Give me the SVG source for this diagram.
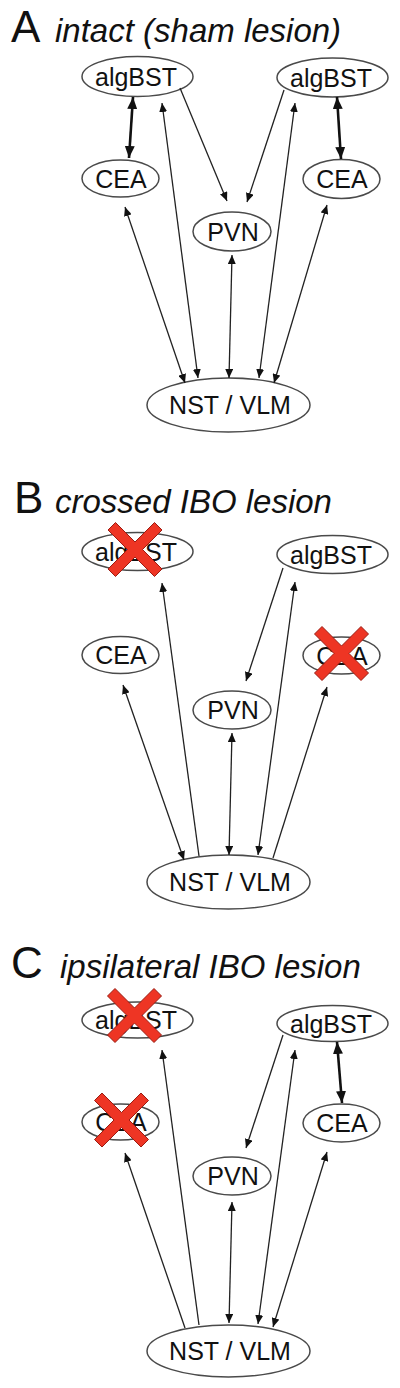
<svg xmlns="http://www.w3.org/2000/svg" width="400" height="1388" viewBox="0 0 400 1388">
<style>
.bg{fill:#ffffff}
.nd ellipse{fill:#ffffff;stroke:#4a4a4a;stroke-width:1.5}
.nd text{font-family:"Liberation Sans",Arial,sans-serif;font-size:25px;fill:#111111;text-anchor:middle}
.ttl{font-family:"Liberation Sans",Arial,sans-serif;fill:#111111}
.ttl .l{font-size:44px}
.ttl .s{font-size:33px;font-style:italic}
.e{stroke:#222222;stroke-width:1.3;fill:none}
.e.b{marker-start:url(#ah);marker-end:url(#ah)}
.e.f{marker-end:url(#ah)}
.t{stroke:#111111;stroke-width:2.6;fill:none;marker-start:url(#ahT);marker-end:url(#ahT)}
.x{fill:#ee3524;stroke:#9b1c12;stroke-width:1}
</style>
<defs>
<marker id="ah" viewBox="0 0 9 8" refX="9" refY="4" markerWidth="9" markerHeight="8" markerUnits="userSpaceOnUse" orient="auto-start-reverse">
<path d="M0,0 L9,4 L0,8 z" fill="#111111"/>
</marker>
<marker id="ahT" viewBox="0 0 12 10" refX="12" refY="5" markerWidth="12" markerHeight="10" markerUnits="userSpaceOnUse" orient="auto-start-reverse">
<path d="M0,0 L12,5 L0,10 z" fill="#111111"/>
</marker>
<polygon id="xmark" points="0,-7.5 19.5,-27 27,-19.5 7.5,0 27,19.5 19.5,27 0,7.5 -19.5,27 -27,19.5 -7.5,0 -27,-19.5 -19.5,-27"/>
</defs>
<rect class="bg" x="0" y="0" width="400" height="1388"/>

<g id="titles" class="ttl">
<text x="11" y="42"><tspan class="l">A</tspan></text>
<text x="55" y="42" class="s">intact (sham lesion)</text>
<text x="14" y="513"><tspan class="l">B</tspan></text>
<text x="55" y="513" class="s">crossed IBO lesion</text>
<text x="11" y="978"><tspan class="l">C</tspan></text>
<text x="60" y="978" class="s">ipsilateral IBO lesion</text>
</g>

<!-- Panel A nodes -->
<g id="A-algBST-L" class="nd"><ellipse cx="137.5" cy="76.5" rx="55.5" ry="20"/><text x="136" y="85.5">algBST</text></g>
<g id="A-algBST-R" class="nd"><ellipse cx="332.5" cy="77.5" rx="55.5" ry="19.5"/><text x="331" y="86.5">algBST</text></g>
<g id="A-CEA-L" class="nd"><ellipse cx="120.5" cy="178.5" rx="38.5" ry="18.5"/><text x="121" y="187.5">CEA</text></g>
<g id="A-CEA-R" class="nd"><ellipse cx="341.5" cy="179" rx="38.5" ry="19.5"/><text x="342" y="188">CEA</text></g>
<g id="A-PVN" class="nd"><ellipse cx="232" cy="231.5" rx="39" ry="19.5"/><text x="233" y="240.5">PVN</text></g>
<g id="A-NST" class="nd"><ellipse cx="228.5" cy="405" rx="81.5" ry="27"/><text x="230" y="414">NST / VLM</text></g>

<!-- Panel B nodes -->
<g id="B-algBST-L" class="nd"><ellipse cx="137.5" cy="551.5" rx="55.5" ry="19"/><text x="136" y="560.5">algBST</text></g>
<g id="B-algBST-R" class="nd"><ellipse cx="332.5" cy="554.5" rx="55.5" ry="19"/><text x="331" y="563.5">algBST</text></g>
<g id="B-CEA-L" class="nd"><ellipse cx="120.5" cy="655" rx="38.5" ry="18.5"/><text x="121" y="664">CEA</text></g>
<g id="B-CEA-R" class="nd"><ellipse cx="341.5" cy="655.5" rx="38.5" ry="18.5"/><text x="342" y="664.5">CEA</text></g>
<g id="B-PVN" class="nd"><ellipse cx="232" cy="710" rx="39" ry="19"/><text x="233" y="719">PVN</text></g>
<g id="B-NST" class="nd"><ellipse cx="228.5" cy="882" rx="81.5" ry="27"/><text x="230" y="891">NST / VLM</text></g>

<!-- Panel C nodes -->
<g id="C-algBST-L" class="nd"><ellipse cx="137.5" cy="1020" rx="55.5" ry="18"/><text x="136" y="1029">algBST</text></g>
<g id="C-algBST-R" class="nd"><ellipse cx="332.5" cy="1023.5" rx="55.5" ry="18"/><text x="331" y="1032.5">algBST</text></g>
<g id="C-CEA-L" class="nd"><ellipse cx="120.5" cy="1122" rx="38.5" ry="18"/><text x="121" y="1131">CEA</text></g>
<g id="C-CEA-R" class="nd"><ellipse cx="341.5" cy="1123" rx="38.5" ry="19"/><text x="342" y="1132">CEA</text></g>
<g id="C-PVN" class="nd"><ellipse cx="232" cy="1176" rx="39" ry="19"/><text x="233" y="1185">PVN</text></g>
<g id="C-NST" class="nd"><ellipse cx="228.5" cy="1351" rx="81.5" ry="26"/><text x="230" y="1360">NST / VLM</text></g>

<g id="connectors">
<!-- A -->
<line class="t" x1="133" y1="97" x2="129" y2="158"/>
<line class="e b" x1="125" y1="207" x2="185" y2="383"/>
<line class="e b" x1="162" y1="103" x2="198" y2="378"/>
<line class="e f" x1="180" y1="88" x2="227" y2="201"/>
<line class="e f" x1="284" y1="90" x2="247" y2="202"/>
<line class="e b" x1="232" y1="255" x2="229" y2="378"/>
<line class="e b" x1="295" y1="103" x2="259" y2="378"/>
<line class="e b" x1="327" y1="205" x2="274" y2="383"/>
<line class="t" x1="337" y1="97" x2="341" y2="159"/>
<!-- B -->
<line class="e f" x1="199" y1="856" x2="162" y2="583"/>
<line class="e b" x1="123" y1="685" x2="184" y2="860"/>
<line class="e b" x1="232" y1="733" x2="229" y2="855"/>
<line class="e f" x1="283" y1="568" x2="246" y2="681"/>
<line class="e b" x1="295" y1="582" x2="258" y2="855"/>
<line class="e f" x1="273" y1="858" x2="327" y2="687"/>
<!-- C -->
<line class="e f" x1="199" y1="1325" x2="162" y2="1050"/>
<line class="e f" x1="185" y1="1328" x2="125" y2="1153"/>
<line class="e b" x1="232" y1="1202" x2="229" y2="1323"/>
<line class="e f" x1="283" y1="1035" x2="246" y2="1148"/>
<line class="e b" x1="295" y1="1050" x2="258" y2="1324"/>
<line class="t" x1="337" y1="1042" x2="342" y2="1103"/>
<line class="e b" x1="327" y1="1152" x2="273" y2="1327"/>
</g>

<g id="lesions">
<use href="#xmark" class="x" transform="translate(135,549.5)"/>
<use href="#xmark" class="x" transform="translate(341.5,653.5)"/>
<use href="#xmark" class="x" transform="translate(134.5,1015.5)"/>
<use href="#xmark" class="x" transform="translate(121.5,1120)"/>
</g>
</svg>
